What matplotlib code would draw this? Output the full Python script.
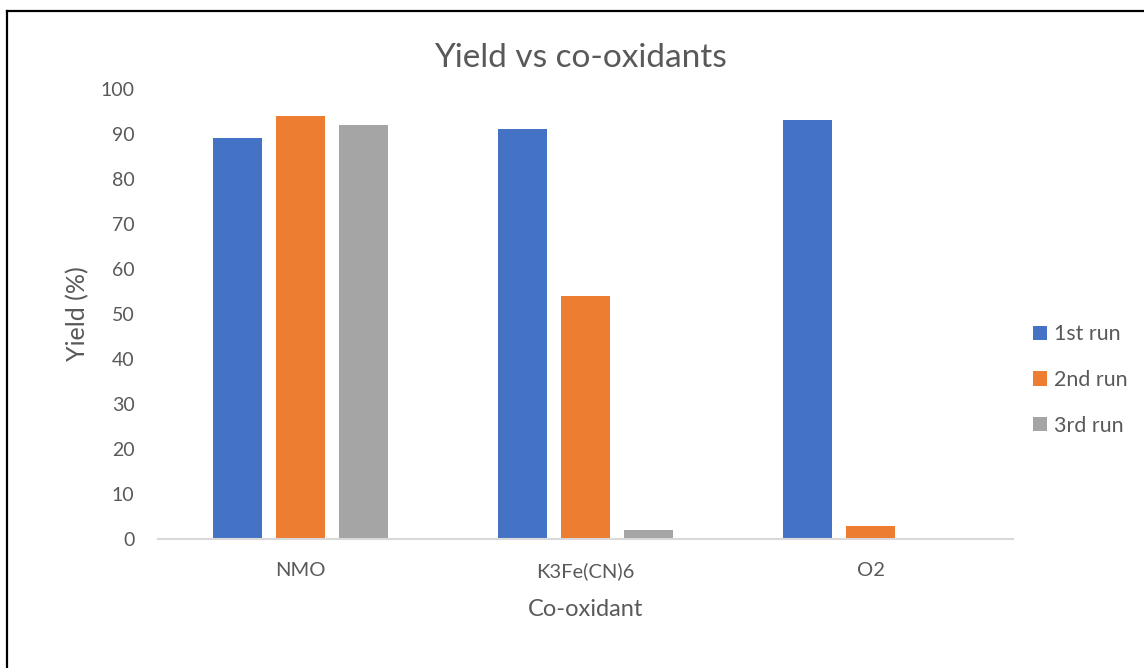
import matplotlib
matplotlib.use("Agg")
import matplotlib.pyplot as plt
from matplotlib.lines import Line2D
import numpy as np

categories = ["NMO", "K3Fe(CN)6", "O2"]
series_names = ["1st run", "2nd run", "3rd run"]
run1 = [89, 91, 93]
run2 = [94, 54, 3]
run3 = [92, 2, 0]
colors = ["#4472C4", "#ED7D31", "#A5A5A5"]
yticks = list(range(0, 101, 10))

plt.rcParams["font.family"] = ["Lato", "DejaVu Sans"]
text_color = "#595959"

fig = plt.figure(figsize=(11.44, 6.68), dpi=100)
ax = fig.add_axes([0.1381, 0.1931, 0.7474, 0.6737])

x = np.arange(len(categories))
bar_w = 0.172
step = 0.221
for i, (vals, name, c) in enumerate(zip([run1, run2, run3], series_names, colors)):
    ax.bar(x + (i - 1) * step, vals, width=bar_w, color=c, label=name, zorder=2)

ax.set_xlim(-0.5, len(categories) - 0.5)
ax.set_ylim(0, 100)
ax.set_yticks(yticks)
ax.set_xticks(x)
ax.set_xticklabels(categories)

for s in ["top", "right", "left"]:
    ax.spines[s].set_visible(False)
ax.spines["bottom"].set_color("#D9D9D9")
ax.spines["bottom"].set_linewidth(1.5)
ax.tick_params(axis="both", length=0, colors=text_color)
ax.tick_params(axis="y", labelsize=14, pad=17)
ax.tick_params(axis="x", labelsize=14.5, pad=16.5)

# chart title is centred on the whole chart area
fig.text(0.507, 0.8997, "Yield vs co-oxidants", fontsize=24, color=text_color,
         ha="center", va="baseline")
ax.set_ylabel("Yield (%)", fontsize=18, color=text_color, labelpad=8)
ax.set_xlabel("Co-oxidant", fontsize=17, color=text_color, labelpad=14)

leg = fig.legend(loc="center left", bbox_to_anchor=(0.886, 0.431), frameon=False,
                 fontsize=15.4, handlelength=0.65, handleheight=0.65, handletextpad=0.35,
                 labelspacing=1.2, labelcolor=text_color)

# thin frame on the left and top edges
fig.add_artist(Line2D([0.0061, 0.0061], [0.0, 0.9835], transform=fig.transFigure,
                      color="black", linewidth=1.6))
fig.add_artist(Line2D([0.0061, 1.0], [0.9835, 0.9835], transform=fig.transFigure,
                      color="black", linewidth=1.6))

fig.savefig("out.png", dpi=100, facecolor="white")
